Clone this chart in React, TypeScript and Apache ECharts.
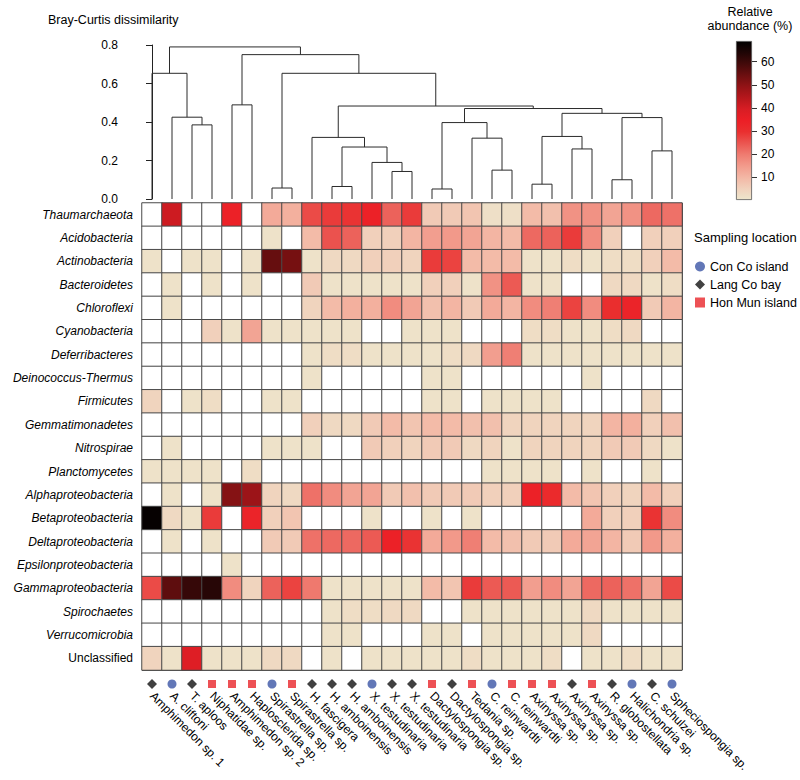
import React, { useEffect, useRef } from 'react';
import * as echarts from 'echarts';

const FONT = 'Liberation Sans, Arial, Helvetica, sans-serif';

const taxa = [
  'Thaumarchaeota', 'Acidobacteria', 'Actinobacteria', 'Bacteroidetes', 'Chloroflexi',
  'Cyanobacteria', 'Deferribacteres', 'Deinococcus-Thermus', 'Firmicutes', 'Gemmatimonadetes',
  'Nitrospirae', 'Planctomycetes', 'Alphaproteobacteria', 'Betaproteobacteria', 'Deltaproteobacteria',
  'Epsilonproteobacteria', 'Gammaproteobacteria', 'Spirochaetes', 'Verrucomicrobia', 'Unclassified',
];

const samples = [
  'Amphimedon sp. 1', 'A. cliftoni', 'T. aploos', 'Niphatidae sp.', 'Amphimedon sp. 2',
  'Haplosclerida sp.', 'Spirastrella sp.', 'Spirastrella sp.', 'H. fascigera', 'H. amboinensis',
  'H. amboinensis', 'X. testudinaria', 'X. testudinaria', 'X. testudinaria', 'Dactylospongia sp.',
  'Dactylospongia sp.', 'Tedania sp.', 'C. reinwardti', 'C. reinwardti', 'Axinyssa sp.',
  'Axinyssa sp.', 'Axinyssa sp.', 'Axinyssa sp.', 'R. globostellata', 'Halichondria sp.',
  'C. schulzei', 'Spheciospongia sp.',
];

// C = Con Co island, L = Lang Co bay, H = Hon Mun island
const sampleLocation = [
  'L', 'C', 'L', 'H', 'H', 'H', 'C', 'H', 'L', 'L', 'L', 'C', 'L', 'L',
  'H', 'L', 'H', 'C', 'H', 'H', 'H', 'L', 'H', 'L', 'C', 'L', 'C',
];

const locationNames = { C: 'Con Co island', L: 'Lang Co bay', H: 'Hon Mun island' };

// relative abundance (%) — rows follow taxa, columns follow samples
const abundance = [
  [0, 41, 0, 0, 34, 0, 12, 11, 26, 28, 29, 34, 23, 28, 6, 6, 7, 1.5, 1.5, 9, 8, 16, 16, 13, 16, 22, 21],
  [0, 0, 0, 0, 0, 0, 1, 0, 9, 25, 23, 5, 5, 10, 14, 15, 13, 10, 9, 22, 23, 28, 17, 5, 0, 5, 5],
  [1, 0, 1, 1, 0, 1, 55, 53, 1, 3, 3, 5, 5, 4, 28, 27, 9, 9, 9, 1, 1, 2, 1, 2, 2, 5, 9],
  [0, 1, 0, 1, 0, 1, 0, 0, 6, 1, 1, 1, 1, 1, 5, 5, 1, 16, 24, 1, 1, 0, 0, 3, 3, 1, 2],
  [0, 1, 0, 0, 0, 0, 0, 0, 4, 9, 11, 11, 17, 13, 8, 10, 6, 12, 10, 17, 19, 27, 17, 30, 33, 6, 10],
  [0, 0, 0, 5, 1, 13, 1, 1, 1, 1, 1, 0, 0, 1, 1, 1, 0, 0, 0, 2, 2, 1, 1, 2, 3, 0, 0],
  [0, 0, 0, 0, 0, 0, 0, 0, 1, 2, 2, 1, 1, 1, 1, 2, 3, 14, 19, 1, 1, 1, 1, 1, 1, 1, 1],
  [0, 0, 0, 0, 0, 0, 0, 0, 1, 0, 0, 0, 0, 0, 1, 1, 0, 0, 0, 0, 0, 0, 1, 0, 0, 0, 0],
  [4, 0, 1, 2, 0, 0, 1, 1, 0, 0, 0, 0, 0, 0, 1, 1, 0, 1, 1, 1, 1, 0, 0, 0, 0, 3, 0],
  [0, 0, 0, 0, 0, 0, 0, 0, 5, 3, 3, 6, 9, 7, 9, 9, 8, 8, 4, 4, 4, 4, 4, 10, 11, 5, 8],
  [0, 1, 0, 0, 0, 0, 1, 1, 1, 0, 0, 6, 5, 4, 6, 6, 3, 4, 1, 4, 4, 4, 4, 6, 6, 3, 1],
  [1, 1, 1, 1, 0, 2, 0, 0, 0, 0, 0, 0, 0, 0, 0, 0, 0, 1, 1, 1, 1, 0, 1, 0, 0, 1, 0],
  [0, 1, 0, 1, 51, 48, 4, 3, 21, 17, 13, 13, 6, 8, 6, 6, 6, 5, 5, 34, 31, 9, 7, 5, 4, 9, 5],
  [68, 3, 1, 28, 0, 33, 5, 7, 0, 0, 0, 1, 0, 0, 1, 0, 1, 0, 0, 0, 0, 0, 12, 5, 5, 29, 17],
  [0, 1, 0, 1, 0, 0, 6, 6, 21, 22, 22, 24, 34, 29, 12, 15, 19, 9, 8, 6, 6, 12, 13, 10, 6, 15, 11],
  [0, 0, 0, 0, 1, 0, 0, 0, 0, 0, 0, 0, 0, 0, 0, 0, 0, 0, 0, 0, 0, 0, 0, 0, 0, 0, 0],
  [26, 56, 61, 63, 17, 4, 23, 27, 20, 1, 1, 1, 1, 1, 9, 7, 28, 24, 24, 14, 17, 13, 22, 23, 21, 13, 26],
  [0, 0, 0, 0, 0, 0, 0, 0, 0, 1, 2, 2, 3, 3, 0, 0, 1, 1, 1, 1, 1, 1, 3, 1, 1, 1, 1],
  [0, 0, 0, 0, 0, 0, 0, 0, 0, 1, 1, 0, 0, 0, 1, 1, 0, 1, 1, 1, 1, 1, 3, 0, 0, 0, 0],
  [4, 1, 38, 1, 1, 1, 3, 3, 0, 1, 0, 1, 1, 1, 1, 1, 2, 1, 1, 1, 2, 0, 1, 1, 2, 1, 1],
];

// hierarchical clustering merges: [childA, childB, Bray-Curtis height]
// ids 0..26 are samples, merge k creates id 27 + k
const merges: [number, number, number][] = [
  [2, 3, 0.385], [1, 27, 0.425], [0, 28, 0.653], [4, 5, 0.489], [6, 7, 0.057],
  [9, 10, 0.065], [12, 13, 0.143], [11, 33, 0.19], [32, 34, 0.27], [8, 35, 0.32],
  [14, 15, 0.052], [17, 18, 0.15], [16, 38, 0.316], [37, 39, 0.397], [19, 20, 0.077],
  [21, 22, 0.26], [41, 42, 0.325], [23, 24, 0.1], [25, 26, 0.25], [44, 45, 0.423],
  [43, 46, 0.445], [40, 47, 0.47], [36, 48, 0.483], [31, 49, 0.653], [30, 50, 0.75],
  [29, 51, 0.79],
];

const colorTicks = [10, 20, 30, 40, 50, 60];
const scaleMax = 69;
const palette = [
  '#ede6cc', '#f1d0bb', '#f3b6a4', '#f29a8b', '#ef7b70', '#eb5550', '#ea2f2f',
  '#ec1f26', '#d81d24', '#b6171c', '#931316', '#6c0f10', '#440a0a', '#1f0505', '#000000',
];

const locationStyle = {
  C: { symbol: 'circle', size: 9, color: '#3b55a5' },
  L: { symbol: 'diamond', size: 10, color: '#111111' },
  H: { symbol: 'rect', size: 8, color: '#e8262b' },
};

export default function App() {
  const ref = useRef<HTMLDivElement>(null);

  useEffect(() => {
    if (!ref.current) return;
    const chart = echarts.init(ref.current, undefined, { renderer: 'svg' });

    // dendrogram segments from merges
    const nodeX: number[] = samples.map((_, i) => i);
    const nodeH: number[] = samples.map(() => 0);
    const segs: number[][] = [];
    merges.forEach(([a, b, h]) => {
      segs.push([nodeX[a], nodeH[a], nodeX[b], nodeH[b], h]);
      nodeX.push((nodeX[a] + nodeX[b]) / 2);
      nodeH.push(h);
    });

    const heat: number[][] = [];
    abundance.forEach((row, r) => row.forEach((v, c) => heat.push([c, r, v])));

    const idx = samples.map((_, i) => String(i));

    const markerSeries = (['C', 'L', 'H'] as const).map((k) => ({
      type: 'scatter',
      name: locationNames[k],
      xAxisIndex: 2,
      yAxisIndex: 2,
      symbol: locationStyle[k].symbol,
      symbolSize: locationStyle[k].size,
      itemStyle: { color: locationStyle[k].color },
      data: sampleLocation.map((loc, i) => (loc === k ? [i, 0.5] : null)).filter((d) => d),
      silent: true,
    }));

    chart.setOption({
      animation: false,
      backgroundColor: '#ffffff',
      textStyle: { fontFamily: FONT },
      grid: [
        { left: 142, top: 45, width: 540, height: 154 },
        { left: 142, top: 203, width: 540, height: 467 },
        { left: 142, top: 677, width: 540, height: 14 },
        { left: 736, top: 41, width: 16, height: 159 },
      ],
      xAxis: [
        { type: 'value', gridIndex: 0, min: -0.5, max: 26.5, show: false },
        {
          type: 'category', gridIndex: 1, data: idx,
          axisLabel: { show: false }, axisTick: { show: false }, axisLine: { show: false },
          splitLine: { show: true, interval: 0, lineStyle: { color: '#4a4a4a', width: 1 } },
        },
        {
          type: 'category', gridIndex: 2, data: idx,
          axisLine: { show: false }, axisTick: { show: false },
          axisLabel: {
            interval: 0, rotate: -45, margin: 3, fontSize: 12, color: '#000', fontFamily: FONT,
            formatter: (v: string) => samples[Number(v)],
          },
        },
        { type: 'category', gridIndex: 3, data: ['bar'], show: false },
      ],
      yAxis: [
        {
          type: 'value', gridIndex: 0, min: 0, max: 0.8, interval: 0.2, offset: 12,
          axisLine: { show: true, lineStyle: { color: '#222', width: 1 } },
          axisTick: { show: true, length: 6, lineStyle: { color: '#222' } },
          axisLabel: { fontSize: 12, color: '#000', margin: 12, formatter: (v: number) => v.toFixed(1) },
          splitLine: { show: false },
        },
        {
          type: 'category', gridIndex: 1, data: taxa, inverse: true,
          axisTick: { show: false }, axisLine: { show: false },
          splitLine: { show: true, interval: 0, lineStyle: { color: '#4a4a4a', width: 1 } },
          axisLabel: {
            margin: 9, fontSize: 12, color: '#000',
            formatter: (v: string) => (v === 'Unclassified' ? `{n|${v}}` : `{i|${v}}`),
            rich: {
              i: { fontStyle: 'italic', fontSize: 12, color: '#000', fontFamily: FONT },
              n: { fontSize: 12, color: '#000', fontFamily: FONT },
            },
          },
        },
        { type: 'value', gridIndex: 2, min: 0, max: 1, show: false },
        {
          type: 'value', gridIndex: 3, min: 0, max: scaleMax, position: 'right',
          axisLine: { show: false },
          axisTick: { show: true, customValues: colorTicks, length: 5, lineStyle: { color: '#333' } },
          axisLabel: { customValues: colorTicks, margin: 9, fontSize: 12, color: '#000' },
          splitLine: { show: false },
        },
      ],
      visualMap: {
        type: 'continuous', show: false, seriesIndex: 1, dimension: 2,
        min: 0, max: scaleMax, range: [0.05, scaleMax],
        inRange: { color: palette },
        outOfRange: { color: ['#ffffff'] },
      },
      legend: {
        left: 690, top: 255, orient: 'vertical', itemWidth: 10, itemHeight: 10, itemGap: 5,
        selectedMode: false,
        textStyle: { fontSize: 12.5, color: '#000', fontFamily: FONT },
        data: [
          { name: 'Con Co island', icon: 'circle' },
          { name: 'Lang Co bay', icon: 'diamond' },
          { name: 'Hon Mun island', icon: 'rect' },
        ],
      },
      graphic: [
        { type: 'text', left: 48, top: 13, style: { text: 'Bray-Curtis dissimilarity', fontSize: 12.5, fill: '#000', fontFamily: FONT } },
        {
          type: 'text', x: 750, y: 5,
          style: { text: 'Relative\nabundance (%)', align: 'center', fontSize: 12.5, lineHeight: 14, fill: '#000', fontFamily: FONT },
        },
        { type: 'text', left: 694, top: 231, style: { text: 'Sampling location', fontSize: 13, fill: '#000', fontFamily: FONT } },
      ],
      series: [
        {
          type: 'custom', xAxisIndex: 0, yAxisIndex: 0, data: segs, silent: true, clip: false,
          encode: { x: [0, 2], y: [1, 3, 4] },
          renderItem: (_p: any, api: any) => {
            const xl = api.value(0), hl = api.value(1), xr = api.value(2), hr = api.value(3), h = api.value(4);
            return {
              type: 'polyline',
              shape: { points: [api.coord([xl, hl]), api.coord([xl, h]), api.coord([xr, h]), api.coord([xr, hr])] },
              style: { stroke: '#2b2b2b', lineWidth: 1, fill: null },
            };
          },
        },
        {
          type: 'heatmap', xAxisIndex: 1, yAxisIndex: 1, data: heat, silent: true,
          itemStyle: { borderColor: '#4a4a4a', borderWidth: 1 },
          emphasis: { disabled: true },
        },
        ...markerSeries,
        {
          type: 'bar', xAxisIndex: 3, yAxisIndex: 3, data: [scaleMax], barWidth: '100%', silent: true,
          itemStyle: {
            borderColor: '#555', borderWidth: 0.8,
            color: new echarts.graphic.LinearGradient(0, 1, 0, 0,
              palette.map((c, i) => ({ offset: i / (palette.length - 1), color: c }))),
          },
        },
      ],
    });

    return () => chart.dispose();
  }, []);

  return <div ref={ref} style={{ position: 'fixed', left: 0, top: 0, width: 800, height: 780 }} />;
}
